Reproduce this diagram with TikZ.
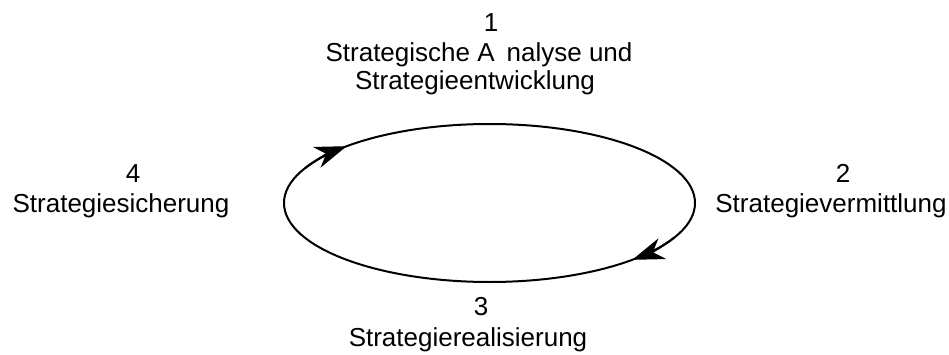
\documentclass[tikz,border=0pt]{standalone}
\usepackage{fontspec}
\setmainfont{Liberation Sans}
\usetikzlibrary{arrows.meta,shapes.geometric}
\begin{document}
\begin{tikzpicture}[x=1pt,y=1pt,
  lbl/.style={anchor=base,inner sep=0pt,font=\fontsize{26}{30}\selectfont},
  cyc/.style={line width=2pt},
  tip/.style={line width=2pt,-{Stealth[length=32pt,width=22pt,inset=10pt]}}]
\useasboundingbox (0,0) rectangle (949,354);
% ellipse (screen centre 489.5,203)
\coordinate (c) at (489.5,151);
\node[draw,cyc,ellipse,minimum width=411pt,minimum height=158pt,inner sep=0pt] (loop) at (c) {};
% arrowheads
\draw[tip] ([shift={(154:205.5 and 79)}]c) arc[start angle=154,end angle=134,x radius=205.5,y radius=79];
\draw[tip] ([shift={(334:205.5 and 79)}]c) arc[start angle=334,end angle=314,x radius=205.5,y radius=79];
% labels
\node[lbl] (n1) at (491,322) {1};
\node[lbl] (l1a) at (479,292) {Strategische A\hspace{12pt}nalyse und};
\node[lbl] (l1b) at (475,264) {Strategieentwicklung};
\node[lbl] (n4) at (133,172) {4};
\node[lbl] (l4) at (121,142) {Strategiesicherung};
\node[lbl] (n2) at (843,172) {2};
\node[lbl] (l2) at (831,142) {Strategievermittlung};
\node[lbl] (n3) at (481,39) {3};
\node[lbl] (l3) at (468,8) {Strategierealisierung};
\end{tikzpicture}
\end{document}
